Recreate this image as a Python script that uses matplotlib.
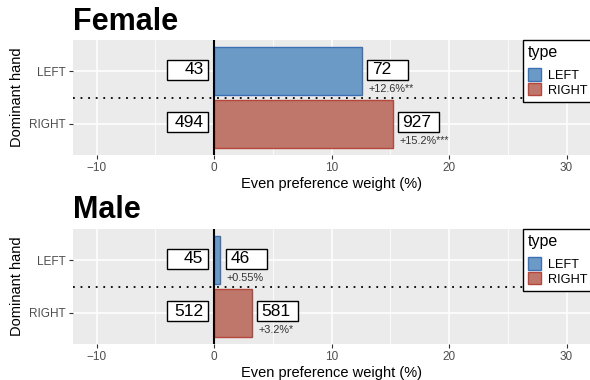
import matplotlib
matplotlib.use("Agg")
import matplotlib.pyplot as plt
from matplotlib.patches import Patch, Rectangle

plt.rcParams["font.family"] = ["Liberation Sans", "DejaVu Sans"]

HANDS = ["LEFT", "RIGHT"]
PANELS = ["Female", "Male"]
# even-weight counts (left boxes), counts after shift (right boxes), shift in %
BASE_N = {"Female": [43, 494], "Male": [45, 512]}
SHIFT_N = {"Female": [72, 927], "Male": [46, 581]}
SHIFT_PCT = {"Female": [12.6, 15.2], "Male": [0.55, 3.2]}
SIG = {"Female": ["**", "***"], "Male": ["", "*"]}
PCT_TXT = {"Female": ["+12.6%", "+15.2%"], "Male": ["+0.55%", "+3.2%"]}

FILL = {"LEFT": "#6C9AC6", "RIGHT": "#BF776C"}
EDGE = {"LEFT": "#3C70B4", "RIGHT": "#B4463A"}
XTICKS = [-10, 0, 10, 20, 30]
XMINOR = [-5, 5, 15, 25]

W, H = 590, 380
fig = plt.figure(figsize=(W / 100, H / 100), dpi=100)

# panel boxes in pixels: (top, bottom)
panel_px = {"Female": (40, 155), "Male": (229, 344)}
title_px = {"Female": 30, "Male": 218}
box_w = 3.5      # label box width in x units
box_h = 0.39     # label box height in y units

for p in PANELS:
    top, bot = panel_px[p]
    ax = fig.add_axes([73 / W, 1 - bot / H, (W - 73) / W, (bot - top) / H])
    ax.set_facecolor("#EBEBEB")
    for s in ax.spines.values():
        s.set_visible(False)
    ax.set_xlim(-12, 32)
    ax.set_ylim(-0.6, 1.6)
    ypos = [1, 0]  # LEFT on top

    ax.set_xticks(XTICKS)
    ax.set_xticks(XMINOR, minor=True)
    ax.set_xticklabels(["\u221210", "0", "10", "20", "30"])
    ax.set_yticks(ypos)
    ax.set_yticklabels(HANDS)
    ax.grid(which="major", color="white", lw=1.1)
    ax.grid(which="minor", axis="x", color="white", lw=0.55)
    ax.set_axisbelow(True)
    ax.tick_params(which="major", length=3, width=0.8, color="#333333",
                   labelcolor="#4D4D4D", labelsize=8.5, pad=2)
    ax.tick_params(which="minor", length=0)

    for i, h in enumerate(HANDS):
        y = ypos[i]
        v = SHIFT_PCT[p][i]
        ax.barh(y, v, height=0.92, color=FILL[h], edgecolor=EDGE[h], lw=1, zorder=2)

        # baseline count box, left of zero
        yc = y + 0.03
        ax.add_patch(Rectangle((-0.5 - box_w, yc - box_h / 2), box_w, box_h,
                               fc="white", ec="black", lw=1, zorder=4))
        ax.text(-0.9, yc, str(BASE_N[p][i]), ha="right", va="center",
                fontsize=12.5, zorder=5)

        # shifted count box, right of bar end
        x0 = v + 0.45
        ax.add_patch(Rectangle((x0, yc - box_h / 2), box_w, box_h,
                               fc="white", ec="black", lw=1, zorder=4))
        ax.text(x0 + 0.4, yc, str(SHIFT_N[p][i]), ha="left", va="center",
                fontsize=12.5, zorder=5)
        ax.text(x0 + 0.1, y - 0.33, PCT_TXT[p][i] + SIG[p][i], ha="left",
                va="center", fontsize=7.8, color="#333333", zorder=5)

    ax.axvline(0, color="black", lw=1.5, zorder=3)
    ax.axhline(0.5, color="black", lw=1.3, ls=(0, (1, 3.2)), zorder=3)

    ax.set_xlabel("Even preference weight (%)", fontsize=10.5, labelpad=2)
    ax.set_ylabel("Dominant hand", fontsize=10.5, labelpad=4)

    fig.text(73 / W, 1 - title_px[p] / H, p, fontsize=22, fontweight="bold",
             ha="left", va="baseline")

    handles = [Patch(facecolor=FILL[h], edgecolor=EDGE[h], lw=1, label=h)
               for h in HANDS]
    leg = ax.legend(handles=handles, title="type", loc="upper left",
                    bbox_to_anchor=(523 / W, 1 - top / H),
                    bbox_transform=fig.transFigure, fontsize=9.2,
                    title_fontsize=11.5, frameon=True, fancybox=False,
                    borderpad=0.4, handlelength=1.0, handleheight=1.1,
                    handletextpad=0.55, labelspacing=0.1, borderaxespad=0)
    leg._legend_box.align = "left"
    leg._legend_box.sep = 6
    leg.get_frame().set_edgecolor("black")
    leg.get_frame().set_facecolor("white")
    leg.get_frame().set_alpha(1)
    leg.get_frame().set_linewidth(1.0)
    leg.set_zorder(10)

fig.savefig("out.png", dpi=100)
